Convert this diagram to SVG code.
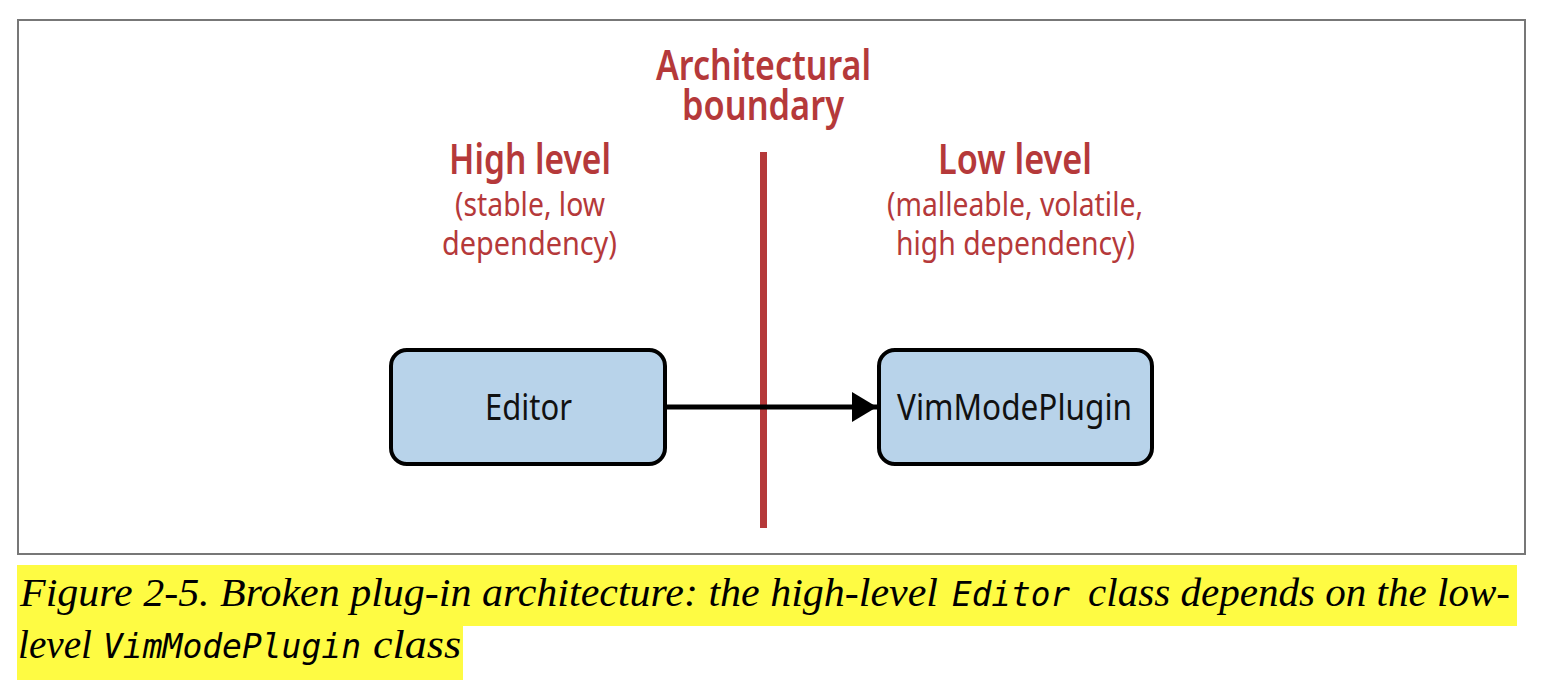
<svg xmlns="http://www.w3.org/2000/svg" width="1542" height="698" viewBox="0 0 1542 698">
<style>
.red{fill:#b5393a;font-family:"Noto Sans","Liberation Sans",sans-serif;text-anchor:middle}
.h1{font-size:42px;font-weight:600}
.h2{font-size:42px;font-weight:600}
.sub{font-size:32px;font-weight:400}
.box{fill:#b8d3ea;stroke:#000;stroke-width:4}
.lbl{font-family:"Noto Sans","Liberation Sans",sans-serif;font-size:36px;fill:#111;text-anchor:middle}
.cap{font-family:"Liberation Serif",serif;font-style:italic;font-size:40px;fill:#000}
.code{font-family:"DejaVu Sans Mono","Liberation Mono",monospace;font-style:italic;font-size:34px;fill:#000}
</style>
<defs>
<marker id="arr" markerWidth="25" markerHeight="30" refX="25" refY="15" orient="auto" markerUnits="userSpaceOnUse">
<path d="M0,0 L25,15 L0,30 Z" fill="#000"/>
</marker>
</defs>
<rect x="0" y="0" width="1542" height="698" fill="#fff"/>
<rect x="18" y="20" width="1507" height="534" fill="#fff" stroke="#777" stroke-width="2"/>
<g id="boundary">
<rect x="760" y="152" width="7" height="376" fill="#b5393a"/>
<text class="red h1" x="763.5" y="80" textLength="215" lengthAdjust="spacingAndGlyphs">Architectural</text>
<text class="red h1" x="763" y="120" textLength="162" lengthAdjust="spacingAndGlyphs">boundary</text>
</g>
<g id="high-level">
<text class="red h2" x="530" y="174" textLength="162" lengthAdjust="spacingAndGlyphs">High level</text>
<text class="red sub" x="530" y="216" textLength="150" lengthAdjust="spacingAndGlyphs">(stable, low</text>
<text class="red sub" x="529.5" y="255" textLength="175" lengthAdjust="spacingAndGlyphs">dependency)</text>
</g>
<g id="low-level">
<text class="red h2" x="1015" y="174" textLength="154" lengthAdjust="spacingAndGlyphs">Low level</text>
<text class="red sub" x="1015" y="216" textLength="256" lengthAdjust="spacingAndGlyphs">(malleable, volatile,</text>
<text class="red sub" x="1015.5" y="255" textLength="239" lengthAdjust="spacingAndGlyphs">high dependency)</text>
</g>
<g id="connectors">
<line x1="666" y1="407" x2="877" y2="407" stroke="#000" stroke-width="5" marker-end="url(#arr)"/>
</g>
<g id="editor">
<rect class="box" x="391" y="350" width="274" height="114" rx="16"/>
<text class="lbl" x="528.5" y="420" textLength="87" lengthAdjust="spacingAndGlyphs">Editor</text>
</g>
<g id="vimmodeplugin">
<rect class="box" x="879" y="350" width="273" height="114" rx="16"/>
<text class="lbl" x="1014.5" y="420" textLength="235" lengthAdjust="spacingAndGlyphs">VimModePlugin</text>
</g>
<g id="caption">
<rect x="17" y="565" width="1500" height="61" fill="#fefb43"/>
<rect x="17" y="625" width="446" height="55" fill="#fefb43"/>
<text class="cap" x="20" y="606" textLength="918" lengthAdjust="spacingAndGlyphs">Figure 2-5. Broken plug-in architecture: the high-level</text>
<text class="code" x="952" y="606" textLength="118" lengthAdjust="spacingAndGlyphs">Editor</text>
<text class="cap" x="1088" y="606" textLength="422" lengthAdjust="spacingAndGlyphs">class depends on the low-</text>
<text class="cap" x="18" y="658" textLength="74" lengthAdjust="spacingAndGlyphs">level</text>
<text class="code" x="103" y="658" textLength="258" lengthAdjust="spacingAndGlyphs">VimModePlugin</text>
<text class="cap" x="373" y="658" textLength="88" lengthAdjust="spacingAndGlyphs">class</text>
</g>
</svg>
